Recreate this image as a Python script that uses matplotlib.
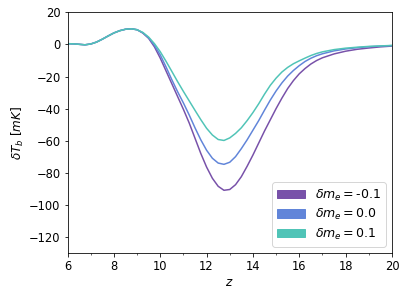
import numpy as np
import matplotlib
matplotlib.use("Agg")
import matplotlib.pyplot as plt
import matplotlib.patches as mpatches

plt.rcParams["font.size"] = 11.5

# redshift grid and brightness temperature (mK)
z = [6.0, 6.25, 6.5, 6.75, 7.0, 7.25, 7.5, 7.75, 8.0, 8.25, 8.5, 8.75, 9.0, 9.25,
     9.5, 9.75, 10.0, 10.25, 10.5, 10.75, 11.0, 11.25, 11.5, 11.75, 12.0, 12.25,
     12.5, 12.75, 13.0, 13.25, 13.5, 13.75, 14.0, 14.25, 14.5, 14.75, 15.0, 15.25,
     15.5, 15.75, 16.0, 16.25, 16.5, 16.75, 17.0, 17.5, 18.0, 18.5, 19.0, 19.5, 20.0]

early = [0.5, 0.4, 0.1, -0.2, 0.3, 1.5, 3.3, 5.3, 7.2, 8.6, 9.5, 9.8, 9.2]

dTb_m01 = early + [7.1, 3.8, -1.5, -8.5, -16.5, -24.5, -32.5, -40.5, -49.0, -58.5,
                   -68.0, -76.5, -83.5, -88.5, -91.0, -90.5, -87.5, -82.5, -76.0, -69.0,
                   -61.5, -54.0, -47.0, -40.0, -33.5, -27.5, -22.5, -18.3, -15.0, -12.2,
                   -10.0, -8.3, -5.9, -4.2, -3.0, -2.2, -1.5, -1.0]
dTb_00 = early + [7.3, 4.2, -0.5, -6.5, -14.0, -22.0, -29.5, -36.5, -44.0, -52.0,
                  -59.5, -66.0, -71.0, -74.0, -74.8, -73.5, -70.0, -65.0, -59.5, -53.5,
                  -47.5, -41.0, -34.7, -29.0, -24.0, -19.7, -16.2, -13.2, -10.6, -8.6,
                  -7.0, -5.8, -4.0, -2.8, -2.0, -1.4, -1.0, -0.7]
dTb_p01 = early + [7.5, 4.6, 0.5, -4.5, -10.5, -16.8, -23.2, -29.3, -35.2, -41.1,
                   -46.9, -52.3, -56.5, -59.3, -59.9, -58.3, -55.5, -52.0, -47.5, -42.5,
                   -37.0, -31.0, -25.5, -21.0, -17.2, -14.3, -12.0, -10.2, -8.5, -6.9,
                   -5.6, -4.6, -3.2, -2.3, -1.7, -1.2, -0.9, -0.6]

labels = ["-0.1", "0.0", "0.1"]
colors = ["#7851a9", "#6185d9", "#50c4b7"]

fig = plt.figure(figsize=(407 / 72, 296 / 72), dpi=72)
ax = fig.add_axes([0.166, 0.146, 0.797, 0.812])

for y, c in zip([dTb_m01, dTb_00, dTb_p01], colors):
    ax.plot(z, y, color=c, lw=1.5)

ax.set_xlim(6, 20)
ax.set_ylim(-130, 20)
ax.set_xticks(np.arange(6, 21, 2))
ax.set_xticks(np.arange(7, 20, 2), minor=True)
ax.set_yticks(np.arange(-120, 21, 20))
ax.set_xlabel(r"$z$", fontsize=12, labelpad=3)
ax.set_ylabel(r"$\delta T_b\ [mK]$", fontsize=12, labelpad=3)

handles = [mpatches.Patch(color=c, label=r"$\delta m_e = $" + l) for c, l in zip(colors, labels)]
ax.legend(handles=handles, loc="lower right", fontsize=12.5, handlelength=2.2,
          handleheight=0.7, labelspacing=0.35)

fig.savefig("out.png", dpi=72)
